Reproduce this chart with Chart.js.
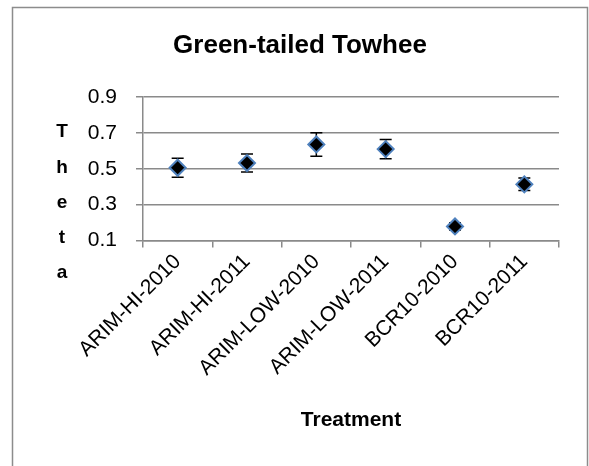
<!DOCTYPE html>
<html>
<head>
<meta charset="utf-8">
<script src="https://cdn.jsdelivr.net/npm/chart.js@4.4.0/dist/chart.umd.min.js"></script>
<style>
  html, body { margin: 0; padding: 0; background: #fff; }
  #wrap { width: 589px; height: 466px; }
</style>
</head>
<body>
<div id="wrap"><canvas id="towheeChart" width="589" height="466"></canvas></div>
<script>
// Data
const treatments = ["ARIM-HI-2010", "ARIM-HI-2011", "ARIM-LOW-2010", "ARIM-LOW-2011", "BCR10-2010", "BCR10-2011"];
const thetaValues = [0.506, 0.532, 0.636, 0.61, 0.178, 0.413];
const thetaErrors = [0.053, 0.05, 0.066, 0.054, 0.02, 0.035];
const yTicks = [0.1, 0.3, 0.5, 0.7, 0.9];
const yTitleLetters = ["T", "h", "e", "t", "a"];

const FONT = "'Liberation Sans', Arial, sans-serif";
const GRID = "#8a8a8a";

// Frame around the whole chart
const framePlugin = {
  id: "frame",
  beforeDraw(chart) {
    const ctx = chart.ctx;
    ctx.save();
    ctx.strokeStyle = "#8c8c8c";
    ctx.lineWidth = 1.5;
    ctx.strokeRect(12.5, 7.5, 575, 480);
    ctx.restore();
  }
};

// Error bars, drawn under the markers
const errorBarPlugin = {
  id: "errorBars",
  beforeDatasetsDraw(chart) {
    const ctx = chart.ctx;
    const xs = chart.scales.x;
    const ys = chart.scales.y;
    ctx.save();
    ctx.strokeStyle = "#000";
    ctx.lineWidth = 1.5;
    thetaValues.forEach((v, i) => {
      const x = xs.getPixelForValue(i);
      const top = ys.getPixelForValue(v + thetaErrors[i]);
      const bot = ys.getPixelForValue(v - thetaErrors[i]);
      ctx.beginPath();
      ctx.moveTo(x, top);
      ctx.lineTo(x, bot);
      ctx.moveTo(x - 6, top);
      ctx.lineTo(x + 6, top);
      ctx.moveTo(x - 6, bot);
      ctx.lineTo(x + 6, bot);
      ctx.stroke();
    });
    ctx.restore();
  }
};

// Vertical "Theta" title, one letter per line
const yTitlePlugin = {
  id: "yTitle",
  afterDraw(chart) {
    const ctx = chart.ctx;
    ctx.save();
    ctx.fillStyle = "#000";
    ctx.font = "bold 19px " + FONT;
    ctx.textAlign = "center";
    ctx.textBaseline = "middle";
    yTitleLetters.forEach((ch, i) => {
      ctx.fillText(ch, 62, 132 + i * 35.3);
    });
    ctx.restore();
  }
};

new Chart(document.getElementById("towheeChart"), {
  type: "line",
  data: {
    labels: treatments,
    datasets: [
      {
        label: "Theta",
        data: thetaValues,
        showLine: false,
        pointStyle: "rectRot",
        pointRadius: 8,
        pointHoverRadius: 8,
        pointBackgroundColor: "#000",
        pointBorderColor: "#4f81bd",
        pointBorderWidth: 2
      }
    ]
  },
  options: {
    responsive: false,
    animation: false,
    layout: { padding: { left: 41, right: 30, top: 0, bottom: 33 } },
    plugins: {
      legend: { display: false },
      tooltip: { enabled: false },
      title: {
        display: true,
        text: "Green-tailed Towhee",
        color: "#000",
        font: { family: FONT, size: 26, weight: "bold" },
        padding: { top: 30, bottom: 36 }
      }
    },
    scales: {
      x: {
        offset: true,
        grid: { drawOnChartArea: false, offset: true, color: GRID, lineWidth: 1.5, tickLength: 7 },
        border: { color: GRID, width: 1.5 },
        ticks: {
          color: "#000",
          font: { family: FONT, size: 21 },
          minRotation: 45,
          maxRotation: 45,
          padding: 2,
          autoSkip: false
        },
        title: {
          display: true,
          text: "Treatment",
          color: "#000",
          font: { family: FONT, size: 21, weight: "bold" },
          padding: { top: 25, bottom: 0 }
        }
      },
      y: {
        min: 0.1,
        max: 0.9,
        afterFit(axis) {
          axis.width = 102;
        },
        afterBuildTicks(axis) {
          axis.ticks = yTicks.map((v) => ({ value: v }));
        },
        grid: { color: GRID, lineWidth: 1.5, tickLength: 7 },
        border: { color: GRID, width: 1.5 },
        ticks: {
          color: "#000",
          font: { family: FONT, size: 21 },
          padding: 19,
          callback: (v) => v.toFixed(1)
        }
      }
    }
  },
  plugins: [framePlugin, errorBarPlugin, yTitlePlugin]
});
</script>
</body>
</html>
